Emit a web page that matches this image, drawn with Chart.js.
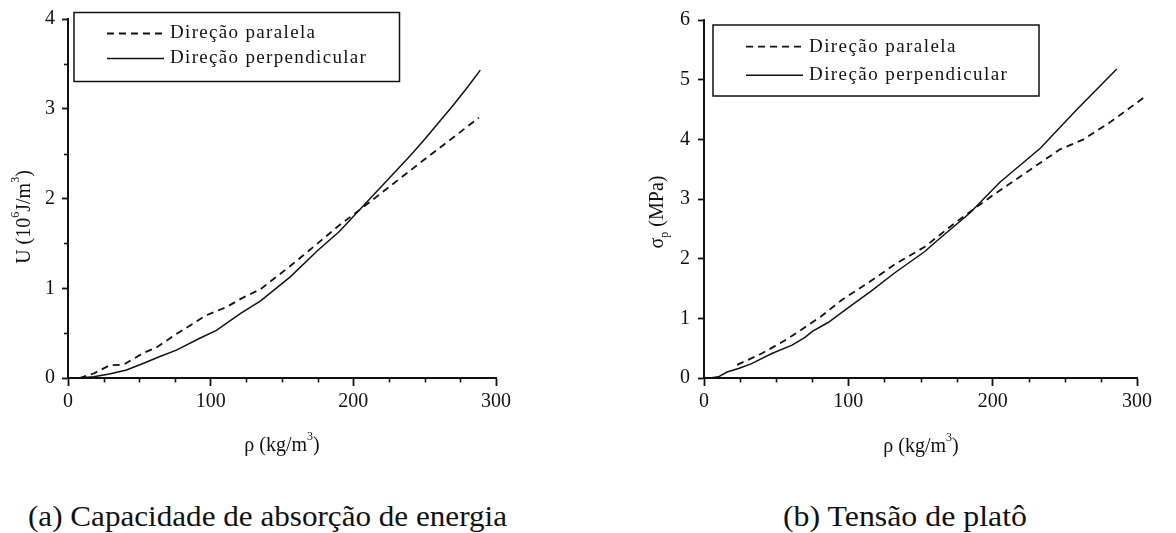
<!DOCTYPE html>
<html>
<head>
<meta charset="utf-8">
<script src="https://cdn.jsdelivr.net/npm/chart.js@4.4.1/dist/chart.umd.min.js"></script>
<style>
  html, body { margin: 0; padding: 0; background: #fff; width: 1176px; height: 533px; overflow: hidden; position: relative; }
  canvas { position: absolute; top: 0; }
  #chartA { left: 0; }
  #chartB { left: 600px; }
  .cap { position: absolute; top: 500px; font-family: "Liberation Serif", "Times New Roman", serif; font-size: 29px; line-height: 32px; color: #111; white-space: nowrap; transform-origin: 0 0; }
</style>
</head>
<body>
<canvas id="chartA" width="600" height="480"></canvas>
<canvas id="chartB" width="576" height="480"></canvas>
<div class="cap" id="capA">(a) Capacidade de absorção de energia</div>
<div class="cap" id="capB">(b) Tensão de platô</div>
<script>
// Series labels
const seriesLabels = ['Direção paralela', 'Direção perpendicular'];

// (a) Energy absorption capacity U (10^6 J/m^3) vs density rho (kg/m^3)
const rhoParA  = [8, 18, 29, 39, 53, 62, 76, 97, 111, 122, 135, 156, 175, 190, 205, 226, 247, 270, 288];
const uParA    = [0, 0.05, 0.14, 0.15, 0.28, 0.34, 0.49, 0.70, 0.79, 0.89, 0.99, 1.25, 1.50, 1.70, 1.88, 2.14, 2.40, 2.68, 2.90];
const rhoPerpA = [7, 18, 29, 41, 53, 64, 76, 92, 104, 121, 135, 156, 175, 190, 200, 210, 220, 230, 240, 250, 260, 270, 280, 289];
const uPerpA   = [0, 0.015, 0.045, 0.09, 0.165, 0.236, 0.31, 0.44, 0.53, 0.72, 0.86, 1.13, 1.42, 1.63, 1.80, 1.97, 2.14, 2.31, 2.48, 2.66, 2.85, 3.04, 3.24, 3.43];

// (b) Plateau stress sigma_p (MPa) vs density rho (kg/m^3)
const rhoParB  = [23, 40, 56, 65, 81.5, 95, 114, 132, 153, 175, 200, 223.5, 246.5, 263, 281, 307];
const sParB    = [0.22, 0.41, 0.63, 0.77, 1.04, 1.30, 1.60, 1.90, 2.20, 2.62, 3.06, 3.45, 3.83, 4.00, 4.28, 4.74];
const rhoPerpB = [4, 10, 16, 24, 33, 47, 61, 70, 75, 86, 100, 116, 132, 153, 159, 184, 205, 233, 258, 286];
const sPerpB   = [0, 0.02, 0.10, 0.16, 0.24, 0.41, 0.55, 0.68, 0.78, 0.93, 1.18, 1.46, 1.76, 2.12, 2.25, 2.76, 3.28, 3.85, 4.49, 5.18];

// Axis ranges
const xRange  = [0, 300];
const yRangeA = [0, 4];
const yRangeB = [0, 6];

const SERIF = '"Liberation Serif", "Times New Roman", serif';
const INK = '#111';

function pts(xs, ys) { return xs.map((x, i) => ({ x, y: ys[i] })); }

// Draws text made of normal / superscript / subscript pieces, centred on (x, y)
function drawRich(ctx, parts, x, y, size, angle) {
  ctx.save();
  ctx.translate(x, y);
  ctx.rotate(angle || 0);
  ctx.fillStyle = INK;
  ctx.textBaseline = 'middle';
  ctx.textAlign = 'left';
  const fontOf = k => (k ? Math.round(size * 0.62) : size) + 'px ' + SERIF;
  let total = 0;
  parts.forEach(([t, k]) => { ctx.font = fontOf(k); total += ctx.measureText(t).width; });
  let cx = -total / 2;
  parts.forEach(([t, k]) => {
    ctx.font = fontOf(k);
    const dy = k === 1 ? -size * 0.45 : (k === -1 ? size * 0.32 : 0);
    ctx.fillText(t, cx, dy);
    cx += ctx.measureText(t).width;
  });
  ctx.restore();
}

// Minor ticks, axis titles and the boxed legend
const decorPlugin = {
  id: 'decor',
  afterDraw(chart, args, o) {
    const ctx = chart.ctx;
    const xs = chart.scales.x, ys = chart.scales.y;
    const area = chart.chartArea;
    ctx.save();
    ctx.strokeStyle = INK;
    ctx.lineWidth = 1.6;
    // minor ticks on x
    for (let v = xs.min; v <= xs.max + 1e-9; v += o.minorX) {
      if (Math.abs(v % o.majorX) < 1e-9) continue;
      const px = Math.round(xs.getPixelForValue(v)) + 0.5;
      ctx.beginPath(); ctx.moveTo(px, area.bottom); ctx.lineTo(px, area.bottom + 4.5); ctx.stroke();
    }
    // minor ticks on y
    if (o.minorY) {
      for (let v = ys.min; v <= ys.max + 1e-9; v += o.minorY) {
        if (Math.abs(v % o.majorY) < 1e-9) continue;
        const py = Math.round(ys.getPixelForValue(v)) + 0.5;
        ctx.beginPath(); ctx.moveTo(area.left, py); ctx.lineTo(area.left - 4, py); ctx.stroke();
      }
    }
    ctx.restore();

    // axis titles
    drawRich(ctx, o.xTitle, o.xTitlePos[0], o.xTitlePos[1], 20, 0);
    drawRich(ctx, o.yTitle, o.yTitlePos[0], o.yTitlePos[1], 20, -Math.PI / 2);

    // legend box
    const b = o.legendBox;
    ctx.save();
    ctx.fillStyle = '#fff';
    ctx.fillRect(b[0], b[1], b[2], b[3]);
    ctx.strokeStyle = INK;
    ctx.lineWidth = 1.5;
    ctx.strokeRect(b[0], b[1], b[2], b[3]);
    ctx.font = '19px ' + SERIF;
    ctx.fillStyle = INK;
    ctx.textBaseline = 'middle';
    const longest = chart.data.datasets.reduce((m, d) => Math.max(m, d.label.length), 0);
    const refLabel = chart.data.datasets.find(d => d.label.length === longest).label;
    ctx.letterSpacing = '0px';
    const natural = ctx.measureText(refLabel).width;
    const spacing = Math.max(0, (o.legendTextWidth - natural) / (refLabel.length - 1));
    chart.data.datasets.forEach((ds, i) => {
      const y = b[1] + o.legendRows[i];
      ctx.save();
      ctx.strokeStyle = ds.borderColor;
      ctx.lineWidth = ds.borderWidth;
      ctx.setLineDash(ds.borderDash || []);
      ctx.beginPath();
      ctx.moveTo(b[0] + 33, y);
      ctx.lineTo(b[0] + 90, y);
      ctx.stroke();
      ctx.restore();
      ctx.letterSpacing = spacing.toFixed(2) + 'px';
      ctx.fillText(ds.label, b[0] + 96, y);
    });
    ctx.restore();
  }
};

function makeChart(id, datasets, yRange, geom, decor) {
  return new Chart(document.getElementById(id), {
    type: 'line',
    data: { datasets },
    options: {
      responsive: false,
      animation: false,
      devicePixelRatio: 1,
      layout: { padding: { left: 0, top: geom.top, right: geom.right, bottom: 0 } },
      plugins: { legend: { display: false }, tooltip: { enabled: false }, decor },
      elements: { point: { radius: 0 }, line: { tension: 0 } },
      scales: {
        x: {
          type: 'linear', min: xRange[0], max: xRange[1],
          border: { display: true, color: INK, width: 2 },
          grid: { drawOnChartArea: false, drawTicks: true, tickLength: 8, tickColor: INK, tickWidth: 1.8 },
          ticks: { stepSize: 100, padding: 4, color: INK, font: { family: SERIF, size: 20 }, maxRotation: 0 },
          afterFit: s => { s.height = geom.xHeight; }
        },
        y: {
          type: 'linear', min: yRange[0], max: yRange[1],
          border: { display: true, color: INK, width: 2 },
          grid: { drawOnChartArea: false, drawTicks: true, tickLength: 6, tickColor: INK, tickWidth: 1.8 },
          ticks: { stepSize: 1, padding: geom.yPad, color: INK, font: { family: SERIF, size: 20 } },
          afterFit: s => { s.width = geom.yWidth; }
        }
      }
    },
    plugins: [decorPlugin]
  });
}

const dashed = { borderColor: '#111', borderWidth: 1.8, borderDash: [7, 5], fill: false };
const solid  = { borderColor: '#111', borderWidth: 1.5, fill: false };

makeChart('chartA', [
  Object.assign({ label: seriesLabels[0], data: pts(rhoParA, uParA) }, dashed),
  Object.assign({ label: seriesLabels[1], data: pts(rhoPerpA, uPerpA) }, solid)
], yRangeA,
  { top: 17, right: 104, xHeight: 102, yWidth: 68, yPad: 7 },
  {
    minorX: 25, majorX: 100, minorY: 0.5, majorY: 1,
    xTitle: [['ρ (kg/m', 0], ['3', 1], [')', 0]], xTitlePos: [282, 446],
    yTitle: [['U (10', 0], ['6', 1], ['J/m', 0], ['3', 1], [')', 0]], yTitlePos: [25, 217],
    legendBox: [74, 12.5, 325.5, 69], legendRows: [21, 46], legendTextWidth: 196
  });

makeChart('chartB', [
  Object.assign({ label: seriesLabels[0], data: pts(rhoParB, sParB), clip: false }, dashed),
  Object.assign({ label: seriesLabels[1], data: pts(rhoPerpB, sPerpB) }, solid)
], yRangeB,
  { top: 16, right: 39, xHeight: 102, yWidth: 104, yPad: 8 },
  {
    minorX: 25, majorX: 100, minorY: null, majorY: 1,
    xTitle: [['ρ (kg/m', 0], ['3', 1], [')', 0]], xTitlePos: [321, 447],
    yTitle: [['σ', 0], ['p', -1], [' (MPa)', 0]], yTitlePos: [58, 212],
    legendBox: [113, 25, 326, 71], legendRows: [21.7, 50.3], legendTextWidth: 198
  });

// Captions: fit each to its column width
function placeCaption(id, centerX, width) {
  const el = document.getElementById(id);
  const w = el.getBoundingClientRect().width;
  const k = width / w;
  el.style.left = (centerX - width / 2) + 'px';
  el.style.transform = 'scaleX(' + k.toFixed(4) + ')';
}
placeCaption('capA', 267.5, 479);
placeCaption('capB', 905, 244);
</script>
</body>
</html>
